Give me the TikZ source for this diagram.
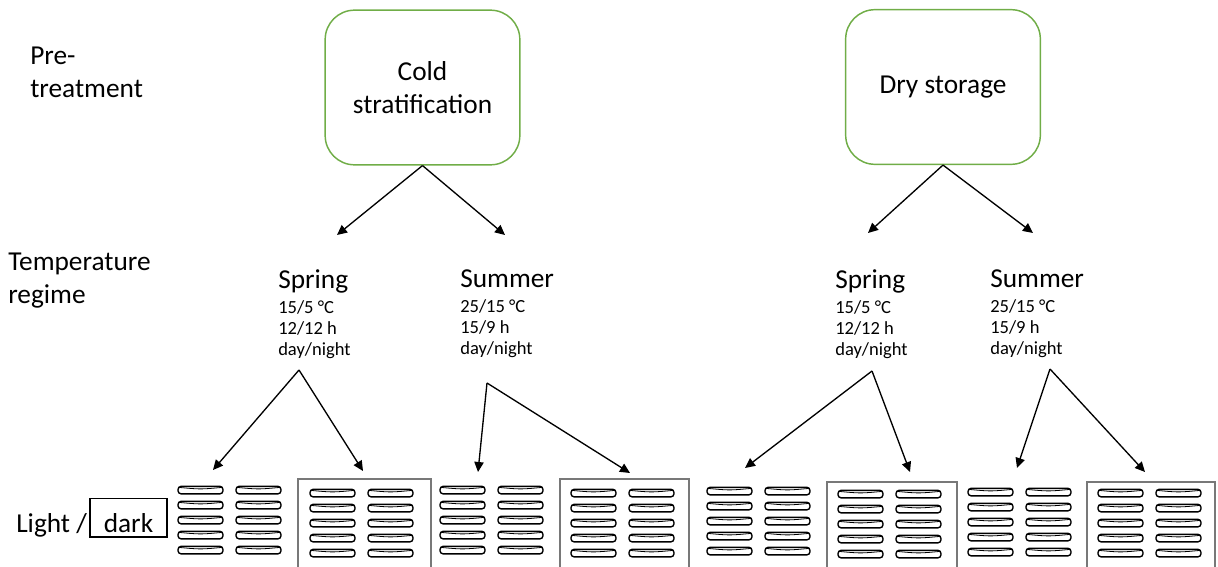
\documentclass[tikz,border=0pt]{standalone}
\usepackage{fontspec}
\setmainfont{Carlito}
\usetikzlibrary{arrows.meta,positioning}
\definecolor{boxgreen}{RGB}{112,173,71}
\definecolor{framegray}{RGB}{120,120,120}
\newcommand{\bigtext}{\fontsize{20.5}{24.5}\selectfont}
\newcommand{\smalltext}{\fontsize{13.9}{15.75}\selectfont}

\begin{document}
\begin{tikzpicture}[
    x=0.75pt, y=-0.75pt,
    treat/.style={draw=boxgreen, line width=1.1pt, rounded corners=22pt, minimum width=146pt, minimum height=116pt, align=center, font=\bigtext},
    rowlabel/.style={inner sep=0, align=left, font=\bigtext},
    season/.style={inner sep=0, anchor=north west, align=left, font=\smalltext},
    arr/.style={-{Triangle[length=7.5pt,width=7pt]}, line width=1pt},
    dish/.style={line width=1.05pt, rounded corners=2.4pt},
    darkbox/.style={draw=framegray, line width=1.1pt}
]
\useasboundingbox (0,0) rectangle (1218,567);

% Row labels
\node[rowlabel, anchor=north west] (pre) at (30,47) {Pre-\\treatment};
\node[rowlabel, anchor=north west] (temp) at (8,253) {Temperature\\regime};
\node[rowlabel, anchor=base west] (light) at (16,532) {Light /};
\node[draw, line width=0.8pt, inner sep=0, text height=25pt, text depth=3.75pt, minimum width=57.75pt, font=\bigtext, anchor=base] (dark) at (128.5,532) {dark};

% Pre-treatments
\node[treat] (cold) at (422.5,87.5) {Cold\\stratification};
\node[treat] (dry) at (943,87) {Dry storage};

% Temperature regimes
\node[season] (springA) at (278,269) {{\bigtext Spring}\\[3pt]15/5 °C\\12/12 h\\day/night};
\node[season] (summerA) at (460,269) {{\bigtext Summer}\\[3pt]25/15 °C\\15/9 h\\day/night};
\node[season] (springB) at (835,269) {{\bigtext Spring}\\[3pt]15/5 °C\\12/12 h\\day/night};
\node[season] (summerB) at (990,269) {{\bigtext Summer}\\[3pt]25/15 °C\\15/9 h\\day/night};

\coordinate (springAin) at (337,235);
\coordinate (summerAin) at (505,235);
\coordinate (springBin) at (868,233);
\coordinate (summerBin) at (1033,233);
\coordinate (springAout) at (299,370);
\coordinate (summerAout) at (487,383);
\coordinate (springBout) at (872,371);
\coordinate (summerBout) at (1050,369);

% Dish groups (light / dark)
\coordinate (g1) at (213,470);
\coordinate (g2) at (363,471);
\coordinate (g3) at (478,472);
\coordinate (g4) at (630,473);
\coordinate (g5) at (745,468);
\coordinate (g6) at (910,472);
\coordinate (g7) at (1017,468);
\coordinate (g8) at (1145,472);

\foreach \bl/\br/\bt in {298/431/479, 560/689/479, 827/957/482, 1087/1215/482}
  \draw[darkbox] (\bl,572) |- (\br,\bt) -- (\br,572);

\foreach \gx/\gy in {178/490, 310/493, 440/490, 571/493, 707/491, 838/494, 968/492, 1098/493}
  \foreach \cx in {0,58}
    \foreach \r in {0,...,4}{
      \draw[dish] (\gx+\cx,\gy+\r*15-3.7) rectangle ++(45,7.6);
      \draw[line width=0.6pt] (\gx+\cx+1,\gy+\r*15-2.6) .. controls (\gx+\cx+22.5,\gy+\r*15-0.6) .. (\gx+\cx+44,\gy+\r*15-2.6);
    }

% Connectors
\draw[arr] (cold.south) -- (springAin);
\draw[arr] (cold.south) -- (summerAin);
\draw[arr] (dry.south) -- (springBin);
\draw[arr] (dry.south) -- (summerBin);
\draw[arr] (springAout) -- (g1);
\draw[arr] (springAout) -- (g2);
\draw[arr] (summerAout) -- (g3);
\draw[arr] (summerAout) -- (g4);
\draw[arr] (springBout) -- (g5);
\draw[arr] (springBout) -- (g6);
\draw[arr] (summerBout) -- (g7);
\draw[arr] (summerBout) -- (g8);

\end{tikzpicture}
\end{document}
